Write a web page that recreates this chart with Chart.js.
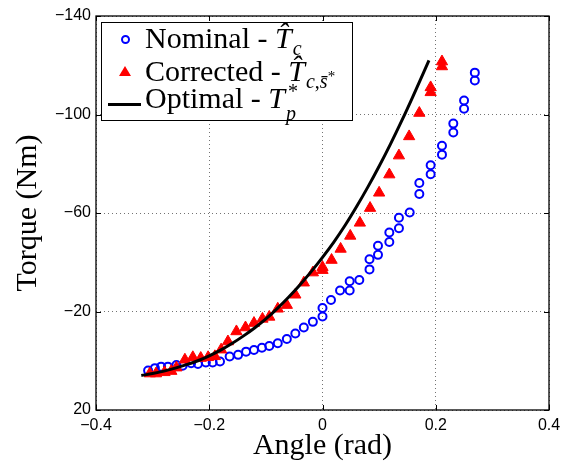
<!DOCTYPE html>
<html>
<head>
<meta charset="utf-8">
<script src="https://cdn.jsdelivr.net/npm/chart.js@4.4.0/dist/chart.umd.min.js"></script>
<style>
  body { margin: 0; background: #fff; }
  #wrap { position: relative; width: 572px; height: 464px; }
  #legenda {
    position: absolute; left: 101px; top: 22px; width: 252px; height: 99px;
    box-sizing: border-box; border: 1.3px solid #000; background: #fff;
    font-family: "Liberation Serif", serif; font-size: 30px; color: #000;
  }
  .riga { position: absolute; left: 43px; line-height: 30px; white-space: nowrap; }
  .riga sub, .riga sup { line-height: 0; font-size: 20px; }
  .riga sub { vertical-align: -7px; margin-left: 1px; }
  .cerchio { position: absolute; left: 19px; top: 12px; width: 9px; height: 9px;
    box-sizing: border-box; border: 2px solid #0000ff; border-radius: 50%; }
  .triangolo { position: absolute; left: 17px; top: 43px; width: 0; height: 0;
    border-left: 6px solid transparent; border-right: 6px solid transparent; border-bottom: 10px solid #ff0000; }
  .linea { position: absolute; left: 6px; top: 80px; width: 33px; height: 3px; background: #000; }
  .pila { position: relative; display: inline-block; width: 16px; height: 1px; }
  .pila span { position: absolute; font-size: 20px; line-height: 0; }
</style>
</head>
<body>
<div id="wrap">
  <canvas id="grafico" width="572" height="464"></canvas>
  <div id="legenda">
    <div class="cerchio"></div>
    <div class="riga" style="top:0px">Nominal - <i>T̂</i><sub><i>c</i></sub></div>
    <div class="triangolo"></div>
    <div class="riga" style="top:33px">Corrected - <i>T̂</i><sub><i>c</i>,<i>s̄</i><span style="font-size:15px;vertical-align:7px">*</span></sub></div>
    <div class="linea"></div>
    <div class="riga" style="top:60px">Optimal - <i>T</i><span class="pila"><span style="left:3px;top:-16px">*</span><span style="left:1px;top:6px"><i>p</i></span></span></div>
  </div>
</div>
<script>
// dati
var nominalAngle = [-0.308, -0.296, -0.285, -0.273, -0.258, -0.247, -0.232, -0.220, -0.206, -0.194, -0.181,
  -0.164, -0.149, -0.135, -0.121, -0.107, -0.094, -0.079, -0.063, -0.048, -0.033, -0.017,
  0.000, 0.000, 0.015, 0.031, 0.048, 0.048, 0.065, 0.083, 0.083, 0.098, 0.098,
  0.118, 0.118, 0.135, 0.135, 0.154, 0.171, 0.171, 0.191, 0.191, 0.211, 0.211,
  0.231, 0.231, 0.250, 0.250, 0.269, 0.269];
var nominalTorque = [4.0, 3.0, 2.4, 2.4, 1.7, 2.0, 1.0, 1.3, 0.7, 0.7, 0.3,
  -1.7, -2.4, -3.7, -4.4, -5.3, -6.0, -7.1, -8.8, -11.1, -13.5, -15.8,
  -18.0, -21.4, -24.7, -28.5, -28.5, -32.3, -32.8, -37.1, -41.2, -43.0, -46.7,
  -48.2, -52.1, -53.8, -58.1, -60.2, -67.7, -72.2, -75.7, -79.4, -83.7, -87.3,
  -92.7, -96.3, -102.3, -105.7, -113.8, -117.0];

var correctedAngle = [-0.305, -0.294, -0.279, -0.267, -0.258, -0.243, -0.229, -0.215, -0.202, -0.190, -0.179, -0.167,
  -0.152, -0.136, -0.121, -0.106, -0.094, -0.079, -0.063, -0.048, -0.033, -0.017,
  0.000, 0.000, 0.016, 0.032, 0.049, 0.066, 0.084, 0.100, 0.118, 0.135, 0.153, 0.171,
  0.191, 0.191, 0.211, 0.211];
var correctedTorque = [5.2, 5.2, 4.7, 4.2, 2.8, -0.4, -1.4, -1.1, -1.4, -1.8, -4.5, -7.8,
  -11.9, -13.5, -15.3, -17.0, -17.8, -21.1, -22.6, -26.8, -31.7, -35.8,
  -36.8, -38.0, -40.9, -45.4, -50.7, -56.0, -62.0, -68.2, -75.6, -83.3, -91.1, -100.6,
  -109.0, -111.0, -119.5, -121.5];

var optimalAngle = [-0.32, -0.30, -0.28, -0.26, -0.24, -0.22, -0.20, -0.18, -0.16, -0.14, -0.12, -0.10, -0.08,
  -0.06, -0.04, -0.02, 0.00, 0.02, 0.04, 0.06, 0.08, 0.10, 0.12, 0.14, 0.16, 0.188];
var optimalTorque = [6.0, 5.2, 4.2, 3.0, 1.6, 0.0, -2.0, -4.3, -7.0, -10.0, -13.3, -17.0, -21.2,
  -25.8, -30.8, -36.2, -42.0, -48.2, -55.0, -62.5, -70.5, -79.0, -88.0, -97.5, -107.5, -122.0];

var angleTicks = [-0.4, -0.2, 0, 0.2, 0.4];
var torqueTicks = [-140, -100, -60, -20, 20];

function punti(xs, ys) {
  return xs.map(function(x, i) { return { x: x, y: ys[i] }; });
}

function etichetta(v) {
  var r = Math.round(v * 10) / 10;
  if (r === 0) return '0';
  return (r < 0 ? '\u2212' : '') + Math.abs(r);
}

// riquadro stile matlab con tacche interne
var riquadro = {
  id: 'riquadro',
  afterDraw: function(chart) {
    var ctx = chart.ctx, a = chart.chartArea;
    var sx = chart.scales.x, sy = chart.scales.y;
    ctx.save();
    ctx.strokeStyle = '#000';
    ctx.lineWidth = 1;
    ctx.beginPath();
    angleTicks.forEach(function(t) {
      var px = Math.round(sx.getPixelForValue(t)) + 0.5;
      ctx.moveTo(px, a.bottom); ctx.lineTo(px, a.bottom - 5);
      ctx.moveTo(px, a.top); ctx.lineTo(px, a.top + 5);
    });
    torqueTicks.forEach(function(t) {
      var py = Math.round(sy.getPixelForValue(t)) + 0.5;
      ctx.moveTo(a.left, py); ctx.lineTo(a.left + 5, py);
      ctx.moveTo(a.right, py); ctx.lineTo(a.right - 5, py);
    });
    ctx.stroke();
    ctx.lineWidth = 1.3;
    ctx.strokeRect(a.left, a.top, a.right - a.left, a.bottom - a.top);
    ctx.restore();
  }
};

var fontTick = { family: 'Liberation Sans', size: 16 };
var fontTitolo = { family: 'Liberation Serif', size: 30 };

var chart = new Chart(document.getElementById('grafico'), {
  type: 'scatter',
  data: {
    datasets: [{
      label: 'Optimal',
      data: punti(optimalAngle, optimalTorque),
      showLine: true,
      borderColor: '#000',
      borderWidth: 3,
      pointRadius: 0,
      cubicInterpolationMode: 'monotone',
      order: 0
    }, {
      label: 'Corrected',
      data: punti(correctedAngle, correctedTorque),
      pointStyle: 'triangle',
      pointRadius: 6.5,
      borderWidth: 1,
      borderColor: '#ff0000',
      backgroundColor: '#ff0000',
      order: 1
    }, {
      label: 'Nominal',
      data: punti(nominalAngle, nominalTorque),
      pointStyle: 'circle',
      pointRadius: 4,
      borderWidth: 2,
      borderColor: '#0000ff',
      backgroundColor: 'rgba(0,0,0,0)',
      order: 2
    }]
  },
  options: {
    responsive: false,
    animation: false,
    layout: { padding: { top: 16, right: 23, left: 0, bottom: 0 } },
    plugins: { legend: { display: false }, tooltip: { enabled: false } },
    scales: {
      x: {
        type: 'linear',
        min: -0.4, max: 0.4,
        afterBuildTicks: function(s) { s.ticks = angleTicks.map(function(v) { return { value: v }; }); },
        afterFit: function(s) { s.height = 54; },
        grid: { color: 'rgba(0,0,0,0.55)', lineWidth: 1, drawTicks: false },
        border: { display: false, dash: [1, 3] },
        ticks: { color: '#000', font: fontTick, padding: 6, maxRotation: 0, autoSkip: false,
          callback: function(v) { return etichetta(v); } },
        title: { display: true, text: 'Angle (rad)', color: '#000', font: fontTitolo, padding: { top: 0, bottom: 0 } }
      },
      y: {
        type: 'linear',
        reverse: true,
        min: -140, max: 20,
        afterBuildTicks: function(s) { s.ticks = torqueTicks.map(function(v) { return { value: v }; }); },
        afterFit: function(s) { s.width = 96; },
        grid: { color: 'rgba(0,0,0,0.55)', lineWidth: 1, drawTicks: false },
        border: { display: false, dash: [1, 3] },
        ticks: { color: '#000', font: fontTick, padding: 5, autoSkip: false,
          callback: function(v) { return (v < 0 ? '\u2212' : '') + Math.abs(v); } },
        title: { display: true, text: 'Torque (Nm)', color: '#000', font: fontTitolo, padding: { top: 10, bottom: 0 } }
      }
    }
  },
  plugins: [riquadro]
});
</script>
</body>
</html>
